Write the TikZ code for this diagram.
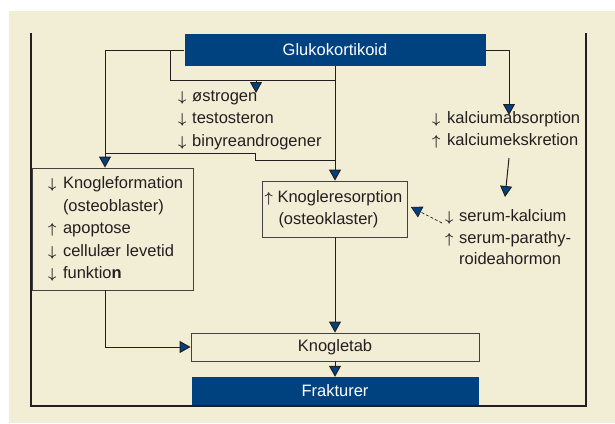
\documentclass[tikz,border=0pt]{standalone}
\usepackage{fontspec}
\setmainfont{Liberation Sans}
\usetikzlibrary{calc,arrows.meta}
\definecolor{boxblue}{HTML}{004180}
\definecolor{paper}{HTML}{F2EDD5}
\definecolor{ink}{HTML}{231F20}
\newcommand{\arrdn}[1][15pt]{\makebox[#1][l]{\fontsize{15}{15}\selectfont\boldmath$\downarrow$}}
\newcommand{\arrup}[1][15pt]{\makebox[#1][l]{\fontsize{15}{15}\selectfont\boldmath$\uparrow$}}
\newcommand{\arrno}[1][15pt]{\makebox[#1][l]{}}

\begin{document}
\begin{tikzpicture}[x=1pt,y=-1pt,
  every node/.style={font=\fontsize{16.5}{22.5}\selectfont, text=ink},
  bluebox/.style={fill=boxblue, text=white, inner sep=0pt},
  framebox/.style={draw=ink!85, fill=paper, line width=0.8pt, inner ysep=0pt, align=left},
  lbl/.style={anchor=north west, inner sep=0pt, align=left},
  plain/.style={draw=ink, line width=1pt},
  link/.style={plain, -{Triangle[width=12pt,length=11pt,fill=boxblue]}}]
  % paper
  \fill[white] (0,0) rectangle (615,423);
  \fill[paper] (9,11) rectangle (615,423);
  \useasboundingbox (0,0) rectangle (615,423);
  \draw[line width=1.5pt, ink] (31,33) -- (31,406) -- (586,406) -- (586,33);
  % boxes
  \node[bluebox, minimum width=301pt, minimum height=32pt] (glu) at (335,50) {Glukokortikoid};
  \node[framebox, minimum width=161pt, minimum height=122pt, text width=129pt, inner xsep=16pt] (kform) at (112.5,229)
    {\arrdn Knogleformation\\ \arrno(osteoblaster)\\ \arrup apoptose\\ \arrdn cellulær levetid\\ \arrdn funktio\textbf{n}};
  \node[framebox, minimum width=145pt, minimum height=56pt, text width=141pt, inner xsep=2pt] (kres) at (335,209)
    {\arrup[13pt]Knogleresorption\\ \arrno[14pt](osteoklaster)};
  \node[framebox, minimum width=288pt, minimum height=28pt] (knog) at (335,347) {Knogletab};
  \node[bluebox, minimum width=287pt, minimum height=28pt] (frak) at (335,391) {Frakturer};
  % texts without box
  \node[lbl] (hormon) at (178,90.5) {\arrdn[14pt]østrogen\\ \arrdn[14pt]testosteron\\ \arrdn[14pt]binyreandrogener};
  \node[lbl] (kalk) at (432,111) {\arrdn kalciumabsorption\\ \arrup kalciumekskretion};
  \node[lbl, font=\fontsize{16.5}{21.5}\selectfont] (serum) at (445,209.5)
    {\arrdn[14pt]serum-kalcium\\ \arrup[14pt]serum-parathy-\\ \arrno[14pt]roideahormon};
  % from glukokortikoid
  \coordinate (g1) at (170,50); \coordinate (g2) at (335,80); \coordinate (g3) at (256,80); \coordinate (g4) at (256,93);
  \draw[link] (glu.west) -| ([xshift=-7.5pt]kform.north);
  \draw[plain] (g1) |- (g2);
  \draw[link] (g3) -- (g4);
  \draw[link] (glu.south) -- (kres.north);
  % under binyreandrogener
  \coordinate (h1) at (105,153); \coordinate (h2) at (255,153); \coordinate (h3) at (255,160); \coordinate (h4) at (335,160);
  \draw[plain] (h1) -- (h2) -- (h3) -- (h4);
  % calcium
  \coordinate (k1) at (509,115); \coordinate (k2) at (509,158); \coordinate (k3) at (505,197); \coordinate (s1) at (442,223);
  \draw[link] (glu.east) -| (k1);
  \draw[link] (k2) -- (k3);
  \draw[link, line width=0.7pt, dash pattern=on 3pt off 2pt] (s1) -- ([shift={(3,-2)}]kres.east);
  % bone loss
  \draw[link] (kres.south) -- (knog.north);
  \draw[link] ([xshift=-7.5pt]kform.south) |- (knog.west);
  \draw[link] (knog.south) -- (frak.north);
\end{tikzpicture}
\end{document}
